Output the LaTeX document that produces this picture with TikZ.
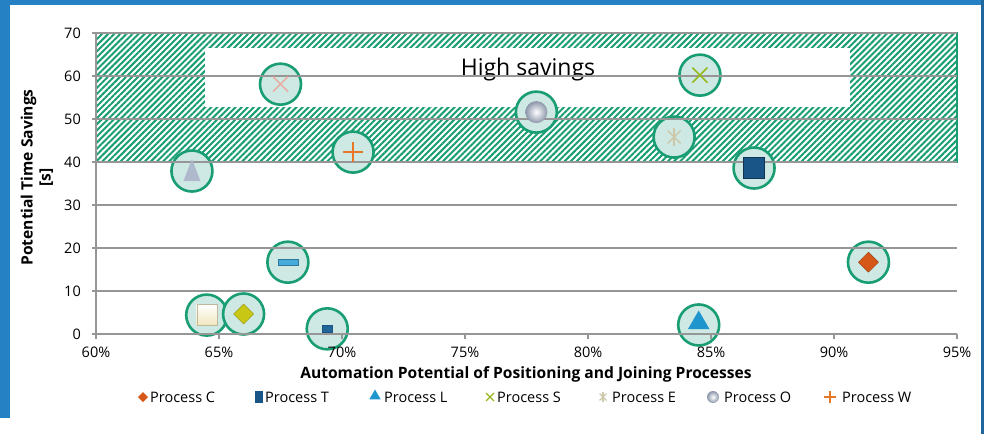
\documentclass[tikz,border=0pt]{standalone}
\usepackage{fontspec}
\setmainfont{Open Sans}
\usetikzlibrary{shapes.geometric, shapes.misc, patterns.meta}
\definecolor{frameblue}{RGB}{38,128,196}
\definecolor{hitgreen}{RGB}{24,158,114}
\definecolor{hitfill}{RGB}{206,232,228}
\definecolor{gridgray}{RGB}{150,150,150}
\definecolor{procC}{RGB}{214,88,24}
\definecolor{procT}{RGB}{25,85,135}
\definecolor{procL}{RGB}{30,150,205}
\definecolor{procS}{RGB}{150,185,30}
\definecolor{procE}{RGB}{205,200,170}
\definecolor{procO}{RGB}{140,150,170}
\definecolor{procW}{RGB}{230,120,40}
\definecolor{cream}{RGB}{240,230,190}
\definecolor{lime}{RGB}{200,200,20}
\definecolor{skyblue}{RGB}{70,170,220}
\definecolor{paleblue}{RGB}{175,185,205}
\definecolor{rose}{RGB}{235,170,160}

\begin{document}
\begin{tikzpicture}[x=1pt,y=1pt]
\tikzstyle{hit}=[circle, draw=hitgreen, line width=2.6pt, fill=hitfill, minimum size=41pt, inner sep=0pt]
\tikzstyle{ticklab}=[font=\fontsize{14.5}{16}\selectfont, inner sep=0pt]
\tikzstyle{legtext}=[anchor=west, font=\fontsize{14.5}{16}\selectfont, inner sep=0pt]
\tikzstyle{axtitle}=[font=\fontsize{15.6}{18}\bfseries\selectfont, inner sep=0pt]
\tikzstyle{marker}=[inner sep=0pt, outer sep=0pt]
\useasboundingbox (0,0) rectangle (984,434);
% frame
\fill[frameblue] (0,429) rectangle (984,434);
\fill[frameblue] (0,16) rectangle (10,434);
\fill[frameblue!80!black] (981,0) rectangle (984,434);

\begin{scope}[x=24.6pt, y=4.3pt, shift={(-1380pt,100pt)}]
% high savings zone
\fill[pattern={Lines[angle=45,distance=4.3pt,line width=2pt]}, pattern color=hitgreen] (60,40) rectangle (95,70);
\fill[white] (64.43,52.8) rectangle (90.65,66.5);
\draw[hitgreen, line width=2.6pt] (60,40) rectangle (95,70);
\node[font=\fontsize{23}{26}\selectfont] (zone) at (77.56,61.6) {High savings};

% hits
\node[hit] (pC) at (91.4,16.7) {};
\node[hit] (pT) at (86.75,38.6) {};
\node[hit] (pL) at (84.5,2.1) {};
\node[hit] (pS) at (84.55,60.2) {};
\node[hit] (pE) at (83.5,45.8) {};
\node[hit] (pO) at (77.9,51.6) {};
\node[hit] (pW) at (70.45,42.3) {};
\node[hit] (pCream) at (64.5,4.4) {};
\node[hit] (pLime) at (66,4.65) {};
\node[hit] (pDash) at (67.8,16.7) {};
\node[hit] (pMini) at (69.4,1.2) {};
\node[hit] (pPale) at (63.9,37.9) {};
\node[hit] (pRose) at (67.5,58.1) {};

% grid and axes
\foreach \v in {10,20,...,70}
  \draw[gridgray, line width=1.3pt] (60,\v) -- (95,\v);
\draw[gridgray, line width=1.3pt] (60,0) -- (95,0);
\draw[gridgray, line width=1.3pt] (60,0) -- (60,70);
\foreach \p in {60,65,...,95} {
  \draw[gridgray, line width=1.3pt] (\p,0) -- ++(0,-5pt);
  \node[ticklab] at (\p,-4.2) {\p\%};
}
\foreach \v in {0,10,...,70} {
  \draw[gridgray, line width=1.3pt] (60,\v) -- ++(-4pt,0);
  \node[ticklab, anchor=east] at (59.39,\v) {\v};
}
\end{scope}

% markers
\node[marker, diamond, fill=procC, draw=procC!70!black, minimum size=20pt] at (pC) {};
\node[marker, rectangle, fill=procT, draw=procT!60!black, line width=1pt, minimum size=21pt] at (pT) {};
\node[marker, regular polygon, regular polygon sides=3, fill=procL, minimum size=25pt] at ([yshift=2pt]pL.center) {};
\node[marker, cross out, draw=procS, line width=1.6pt, minimum size=15pt] at (pS) {};
\node[marker, cross out, draw=procE, line width=1.4pt, minimum size=13pt] at (pE) {};
\draw[procE, line width=1.4pt] ([yshift=-9pt]pE.center) -- ([yshift=9pt]pE.center);
\node[marker, circle, inner color=white, outer color=procO, minimum size=22pt] at (pO) {};
\node[marker, cross out, rotate=45, draw=procW, line width=1.5pt, minimum size=14pt] at (pW) {};
\node[marker, rectangle, top color=white, bottom color=cream, draw=cream!80!black, minimum width=20pt, minimum height=21pt] at (pCream) {};
\node[marker, diamond, fill=lime, draw=lime!70!black, minimum size=20pt] at (pLime) {};
\node[marker, rectangle, fill=skyblue, draw=skyblue!70!black, minimum width=20pt, minimum height=6pt] at (pDash) {};
\node[marker, rectangle, fill=procT!80!skyblue, draw=procT, minimum width=10pt, minimum height=7pt] at (pMini) {};
\fill[paleblue] ([shift={(-8.5pt,-10pt)}]pPale.center) -- ([shift={(8.5pt,-10pt)}]pPale.center) -- ([shift={(0pt,12pt)}]pPale.center) -- cycle;
\node[marker, cross out, draw=rose, line width=1.5pt, minimum size=15pt] at (pRose) {};

% axis titles
\node[axtitle, rotate=90, align=center] (ytitle) at (37,256.5) {Potential Time Savings\\{[s]}};
\node[axtitle] (xtitle) at (526,60) {Automation Potential of Positioning and Joining Processes};

% legend
\node[marker, diamond, fill=procC, minimum size=10pt] (lgC) at (143,37) {};
\node[legtext] (ltC) at (150,37) {Process C};
\node[marker, rectangle, fill=procT, minimum width=8pt, minimum height=12pt] (lgT) at (259,37) {};
\node[legtext] (ltT) at (265,37) {Process T};
\node[marker, regular polygon, regular polygon sides=3, fill=procL, minimum size=13pt] (lgL) at (375,38) {};
\node[legtext] (ltL) at (384,37) {Process L};
\node[marker, cross out, draw=procS, line width=1.3pt, minimum size=8pt] (lgS) at (490,37) {};
\node[legtext] (ltS) at (497,37) {Process S};
\node[marker, cross out, draw=procE, line width=1.2pt, minimum size=7pt] (lgE) at (603,37) {};
\draw[procE, line width=1.2pt] ([yshift=-5pt]lgE.center) -- ([yshift=5pt]lgE.center);
\node[legtext] (ltE) at (612,37) {Process E};
\node[marker, circle, inner color=white, outer color=procO, minimum size=12pt] (lgO) at (713,37) {};
\node[legtext] (ltO) at (724,37) {Process O};
\node[marker, cross out, rotate=45, draw=procW, line width=1.3pt, minimum size=8pt] (lgW) at (830,37) {};
\node[legtext] (ltW) at (842,37) {Process W};
\end{tikzpicture}
\end{document}
